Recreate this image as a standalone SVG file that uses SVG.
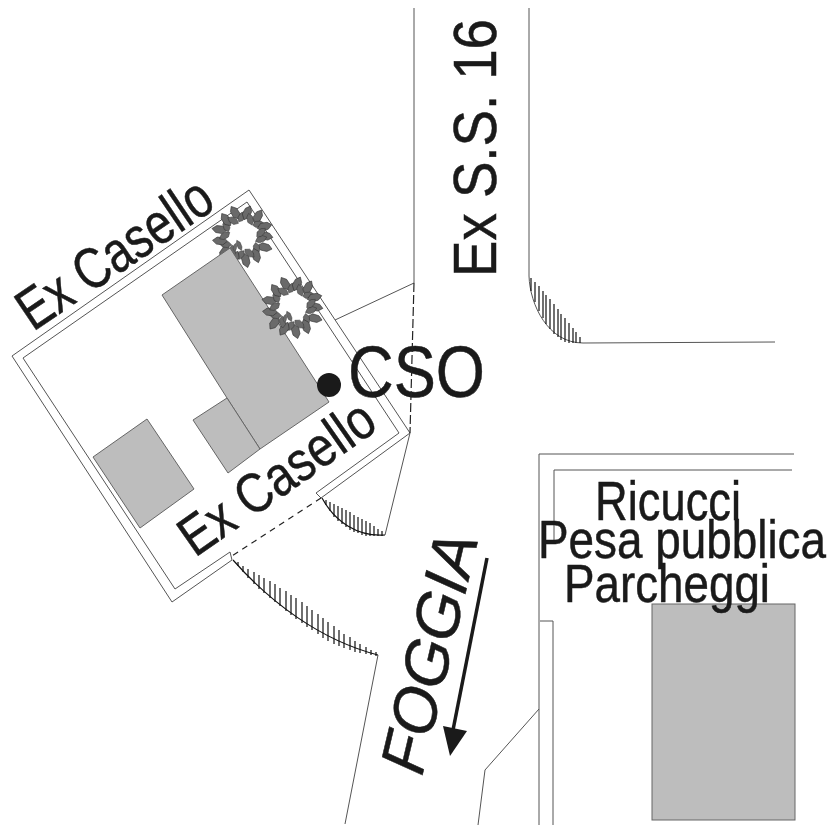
<svg xmlns="http://www.w3.org/2000/svg" xmlns:xlink="http://www.w3.org/1999/xlink" width="827" height="827" viewBox="0 0 827 827">
<style>
.l{fill:none;stroke:#555;stroke-width:1}
.k{fill:none;stroke:#222;stroke-width:1.2}
.b{fill:#bdbdbd;stroke:#666;stroke-width:1}
.t{font-family:"Liberation Sans",Arial,sans-serif;fill:#1a1a1a;stroke:#1a1a1a;stroke-width:.5}
.h{fill:none;stroke:#111;stroke-width:1.2}
.leaf{fill:#6a6a6a;stroke:#333;stroke-width:.6}
</style>
<defs>
<path id="leaf" class="leaf" d="M-7,0L-2.5,-4L4,-3.5L8,0L3.5,3.5L-3,3.5Z"/>
<g id="tree">
<use xlink:href="#leaf" transform="rotate(0) translate(22,0) rotate(10)"/>
<use xlink:href="#leaf" transform="rotate(14) translate(18,-1) rotate(-35) scale(.8)"/>
<use xlink:href="#leaf" transform="rotate(28) translate(24,0) rotate(-15)"/>
<use xlink:href="#leaf" transform="rotate(42) translate(18,0) rotate(40) scale(.8)"/>
<use xlink:href="#leaf" transform="rotate(56) translate(23,0) rotate(15)"/>
<use xlink:href="#leaf" transform="rotate(70) translate(18,0) rotate(-30) scale(.8)"/>
<use xlink:href="#leaf" transform="rotate(84) translate(24,0) rotate(-10)"/>
<use xlink:href="#leaf" transform="rotate(98) translate(19,0) rotate(35) scale(.8)"/>
<use xlink:href="#leaf" transform="rotate(112) translate(23,0) rotate(10)"/>
<use xlink:href="#leaf" transform="rotate(126) translate(18,0) rotate(-40) scale(.8)"/>
<use xlink:href="#leaf" transform="rotate(140) translate(24,0) rotate(-15)"/>
<use xlink:href="#leaf" transform="rotate(154) translate(19,0) rotate(30) scale(.8)"/>
<use xlink:href="#leaf" transform="rotate(168) translate(23,0) rotate(15)"/>
<use xlink:href="#leaf" transform="rotate(182) translate(18,0) rotate(-35) scale(.8)"/>
<use xlink:href="#leaf" transform="rotate(196) translate(24,0) rotate(-10)"/>
<use xlink:href="#leaf" transform="rotate(210) translate(19,0) rotate(40) scale(.8)"/>
<use xlink:href="#leaf" transform="rotate(224) translate(23,0) rotate(10)"/>
<use xlink:href="#leaf" transform="rotate(238) translate(18,0) rotate(-30) scale(.8)"/>
<use xlink:href="#leaf" transform="rotate(252) translate(24,0) rotate(-15)"/>
<use xlink:href="#leaf" transform="rotate(266) translate(19,0) rotate(35) scale(.8)"/>
<use xlink:href="#leaf" transform="rotate(280) translate(23,0) rotate(15)"/>
<use xlink:href="#leaf" transform="rotate(294) translate(18,0) rotate(-40) scale(.8)"/>
<use xlink:href="#leaf" transform="rotate(308) translate(24,0) rotate(-10)"/>
<use xlink:href="#leaf" transform="rotate(322) translate(19,0) rotate(30) scale(.8)"/>
<use xlink:href="#leaf" transform="rotate(336) translate(23,0) rotate(10)"/>
<use xlink:href="#leaf" transform="rotate(350) translate(18,0) rotate(-35) scale(.8)"/>
<use xlink:href="#leaf" transform="translate(-4,9) rotate(65) scale(.75,.55)"/>
<use xlink:href="#leaf" transform="translate(-8,11) rotate(100) scale(.55,.45)"/>
</g>
</defs>
<rect width="827" height="827" fill="#fff"/>

<g id="roads">
<path class="l" d="M414,8V283M529,8V276M583,343L775,342"/>
<path class="l" d="M335,320L414,283M385,535L410,433M378,655L345,824"/>
<path class="l" d="M539,825V454H794M554,540V470H792M540,621H553V825M539,709L485,770L478,825"/>
</g>

<g id="lot">
<path class="l" d="M249,190L12,356L172,602L232,560L230,552L175,589L23,358L247,202L399,433L316,493L321,498L410,433Z"/>
</g>

<use id="tree1" xlink:href="#tree" x="243" y="236"/>

<g id="buildings">
<polygon class="b" points="230,248 162,295 227,398 260,449 329,402"/>
<polygon class="b" points="193,420 227,398 260,449 228,473"/>
<polygon class="b" points="147,419 93,457 140,528 194,489"/>
<rect class="b" x="652" y="604" width="143" height="216"/>
</g>

<use id="tree2" xlink:href="#tree" x="293" y="307"/>

<g id="hatching">
<path class="h" stroke-width="1.5" d="M233,560C270,602 320,640 378,655"/>
<path class="h" d="M238,566V562M243,572V566M248,578V569M254,584V572M259,589V575M264,593V578M270,598V581M275,602V584M280,606V588M286,611V591M291,615V595M296,619V598M302,623V602M307,627V606M312,630V610M318,634V614M323,638V618M328,641V622M334,644V626M339,646V630M344,648V634M350,650V637M355,652V641M360,653V644M366,654V647M371,655V650M376,656V652"/>
<path class="h" d="M322,498C335,522 358,537 385,535"/>
<path class="h" d="M326,505V500M330,511V502M334,517V504M338,521V506M342,524V508M346,527V510M350,530V512M354,532V515M358,533V517M362,535V519M366,536V521M370,536V523M374,536V526M378,536V529M382,536V531"/>
<path class="l" d="M529,276C530,305 548,343 583,343"/>
<path class="h" stroke-width=".9" d="M531,291V278M535,302V282M539,311V286M543,318V291M546,324V295M550,329V299M554,334V304M558,337V309M561,340V314M565,342V318M569,343V323M573,343V328M576,343V332M580,343V337"/>
</g>

<g id="label-road">
<text class="t" font-size="62" textLength="258" lengthAdjust="spacingAndGlyphs" transform="translate(496,277) rotate(-90)">Ex S.S. 16</text>
</g>
<g id="label-casello-top">
<text class="t" font-size="58" textLength="223" lengthAdjust="spacingAndGlyphs" transform="translate(33,332) rotate(-34)">Ex Casello</text>
</g>
<g id="label-casello-bottom">
<text class="t" font-size="56" textLength="226" lengthAdjust="spacingAndGlyphs" transform="translate(195,558) rotate(-35)">Ex Casello</text>
</g>
<g id="cso">
<circle cx="329" cy="385" r="12" fill="#1a1a1a"/>
<text class="t" x="348" y="397" font-size="72" textLength="137" lengthAdjust="spacingAndGlyphs">CSO</text>
</g>
<g id="label-ricucci">
<text class="t" x="595" y="520" font-size="56" textLength="146" lengthAdjust="spacingAndGlyphs">Ricucci</text>
<text class="t" x="538" y="558" font-size="53" textLength="288" lengthAdjust="spacingAndGlyphs">Pesa pubblica</text>
<text class="t" x="564" y="602" font-size="53" textLength="206" lengthAdjust="spacingAndGlyphs">Parcheggi</text>
</g>
<g id="foggia">
<text class="t" font-size="63" font-style="italic" stroke-width="1" transform="translate(422,777) rotate(-76.7)">FOGGIA</text>
<path d="M487,558L453,730" fill="none" stroke="#1a1a1a" stroke-width="3.5"/>
<polygon points="450,756 443,726 467,731" fill="#1a1a1a"/>
</g>
<g id="dashes">
<path class="k" stroke-dasharray="9 3" d="M414,283L410,433"/>
<path class="k" stroke-width=".9" stroke-dasharray="6 5" d="M321,498L232,556"/>
</g>
</svg>
